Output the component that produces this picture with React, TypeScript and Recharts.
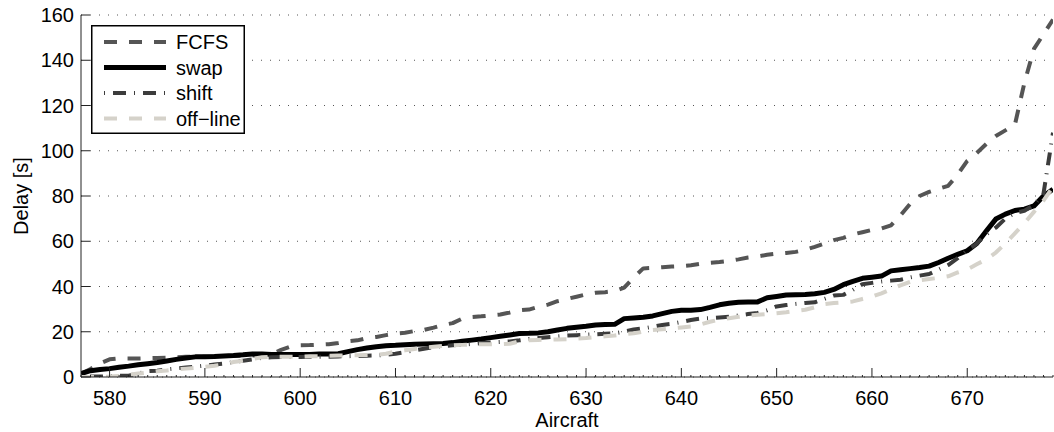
import React from 'react';
import { LineChart, Line, XAxis, YAxis, CartesianGrid, Legend, Label } from 'recharts';

const FIRST_AIRCRAFT = 577;
const LAST_AIRCRAFT = 679;

const fcfs = [
  1.5, 3.5, 6.0, 7.8, 8.2, 8.2, 8.2, 8.3, 8.4, 8.5,
  8.7, 8.9, 9.0, 9.0, 9.1, 9.2, 9.3, 9.4, 9.5, 9.6,
  10.0, 12.0, 13.5, 14.0, 14.1, 14.3, 14.5, 15.0, 15.8, 16.2,
  17.2, 17.7, 18.5, 19.2, 19.6, 20.3, 20.8, 21.8, 23.0, 23.8,
  25.8, 26.5, 26.8, 27.2, 27.6, 28.5, 29.5, 29.8, 31.0, 32.0,
  33.5, 34.5, 35.5, 36.5, 37.2, 37.5, 38.0, 39.5, 44.0, 48.0,
  48.2, 48.5, 48.8, 49.0, 49.4, 50.0, 50.5, 50.8, 51.3, 52.0,
  52.8, 53.3, 54.0, 54.5, 54.8, 55.3, 56.2, 57.5, 59.0, 60.5,
  61.5, 63.0, 64.0, 65.0, 65.6, 67.0, 71.5, 76.5, 80.0, 81.8,
  83.2, 84.5, 89.5, 95.5, 99.0, 103.0, 106.5, 109.0, 111.5, 130.0,
  145.0, 151.5, 158.0,
];

const swap = [
  1.5, 2.8, 3.3, 3.7, 4.3, 4.8, 5.4, 5.9, 6.4, 7.1,
  7.8, 8.4, 8.9, 9.0, 9.1, 9.3, 9.5, 9.8, 10.2, 10.2,
  10.0, 10.0, 10.0, 10.0, 10.0, 10.2, 10.2, 10.3, 11.2, 12.1,
  12.8, 13.4, 13.8, 14.0, 14.3, 14.5, 14.6, 14.7, 14.8, 15.2,
  15.8, 16.3, 16.8, 17.4, 18.0, 18.6, 19.2, 19.3, 19.5, 20.0,
  20.8, 21.5, 22.0, 22.4, 23.0, 23.2, 23.3, 25.8, 26.1, 26.4,
  27.0, 28.0, 29.0, 29.5, 29.5, 29.8, 30.8, 31.9, 32.6, 33.0,
  33.1, 33.2, 35.0, 35.6, 36.2, 36.4, 36.5, 36.8, 37.4, 38.7,
  40.8, 42.3, 43.6, 44.1, 44.6, 46.9, 47.4, 47.9, 48.4, 49.0,
  50.6, 52.5, 54.2, 55.8, 59.0, 64.5, 69.8, 72.0, 73.6, 74.2,
  75.6, 80.0, 83.0,
];

const shift = [
  0.3, 0.2, 0.2, 0.3, 0.5, 0.6, 1.5, 2.6, 2.8, 3.4,
  3.8, 4.2, 4.6, 5.0, 5.5, 5.9, 6.6, 7.2, 7.8, 8.5,
  8.7, 8.8, 8.8, 8.8, 8.9, 8.9, 9.0, 9.1, 9.2, 9.3,
  9.4, 9.5, 9.8, 10.3, 11.0, 11.8, 12.5, 13.2, 13.7, 14.0,
  14.3, 14.6, 15.0, 15.3, 15.5, 15.7, 16.2, 16.8, 17.2, 17.6,
  18.0, 18.3, 18.5, 18.7, 18.9, 19.1, 19.3, 20.0, 21.0, 21.5,
  22.2, 23.0, 23.5, 24.3, 25.2, 25.8, 26.0, 26.3, 26.6, 27.2,
  27.8, 28.3, 29.5, 31.2, 31.8, 32.3, 32.7, 33.0, 34.5, 36.0,
  36.3, 38.5, 41.0, 41.6, 42.2, 42.6, 43.0, 44.0, 44.8, 45.5,
  47.5, 49.5, 52.5, 56.0, 59.0, 63.0, 66.0, 70.0, 72.5, 73.5,
  76.0, 81.0, 108.0,
];

const offline = [
  0.0, 0.0, 0.1, 0.2, 0.4, 1.0, 1.5, 2.0, 2.5, 2.9,
  3.4, 3.7, 4.0, 4.5, 5.0, 5.6, 6.6, 7.2, 8.0, 8.7,
  8.9, 8.9, 8.9, 9.0, 9.2, 9.2, 9.4, 9.5, 9.6, 9.6,
  9.7, 9.8, 10.3, 11.2, 11.8, 12.4, 13.0, 13.4, 13.8, 14.0,
  14.2, 14.4, 14.5, 14.5, 14.5, 14.7, 15.8, 16.2, 16.4, 16.5,
  16.6, 16.7, 17.0, 17.2, 17.6, 18.0, 18.3, 18.9, 19.3, 20.0,
  20.8, 21.1, 21.5, 21.9, 22.3, 23.2, 24.4, 25.4, 26.0, 26.6,
  27.2, 27.5, 27.8, 28.2, 28.6, 29.2, 29.7, 30.8, 32.2, 32.7,
  33.0, 33.4, 34.5, 35.5, 37.0, 38.8, 40.5, 42.0, 42.8, 43.3,
  43.8, 44.5, 46.2, 47.5, 49.8, 52.0, 55.0, 59.0, 63.5, 68.0,
  73.0, 78.0, 84.0,
];

const aircraft = fcfs.map((_, i) => FIRST_AIRCRAFT + i);
const xMajorTicks = [580, 590, 600, 610, 620, 630, 640, 650, 660, 670];
const yTicks = [0, 20, 40, 60, 80, 100, 120, 140, 160];

const data = aircraft.map((a, i) => ({
  a,
  fcfs: fcfs[i],
  swap: swap[i],
  shift: shift[i],
  offline: offline[i],
}));

const FONT = '"Liberation Sans", Arial, Helvetica, sans-serif';
const AXIS_COLOR = '#222';
const FCFS_COLOR = '#555555';
const SWAP_COLOR = '#000000';
const SHIFT_COLOR = '#3c3c3c';
const OFFLINE_COLOR = '#d5d2ca';

const series = [
  { key: 'fcfs', name: 'FCFS', color: FCFS_COLOR, width: 4, dash: '13 12' },
  { key: 'swap', name: 'swap', color: SWAP_COLOR, width: 5, dash: undefined },
  { key: 'shift', name: 'shift', color: SHIFT_COLOR, width: 4, dash: '1 8 13 8' },
  { key: 'offline', name: 'off\u2212line', color: OFFLINE_COLOR, width: 4, dash: '13 12' },
];

const XTick = (props: any) => {
  const { x, y, payload } = props;
  const v = payload.value as number;
  const major = xMajorTicks.includes(v);
  return (
    <g>
      <line x1={x} x2={x} y1={y} y2={y - (major ? 9 : 2)} stroke={AXIS_COLOR} strokeWidth={1} />
      {major && (
        <text x={x} y={y + 28} textAnchor="middle" fontSize={20} fontFamily={FONT} fill="#000">
          {v}
        </text>
      )}
    </g>
  );
};

const YTick = (props: any) => {
  const { x, y, payload } = props;
  return (
    <g>
      <line x1={x} x2={x + 9} y1={y} y2={y} stroke={AXIS_COLOR} strokeWidth={1} />
      <text x={x - 7} y={y + 7} textAnchor="end" fontSize={20} fontFamily={FONT} fill="#000">
        {payload.value}
      </text>
    </g>
  );
};

const LegendBox = () => (
  <svg width={154} height={109} style={{ display: 'block' }}>
    <rect x={0.75} y={0.75} width={152.5} height={107.5} fill="#fff" stroke="#000" strokeWidth={1.5} />
    {series.map((s, i) => {
      const cy = 17 + i * 25.5;
      return (
        <g key={s.key}>
          <line
            x1={13}
            x2={75}
            y1={cy}
            y2={cy}
            stroke={s.color}
            strokeWidth={s.width}
            strokeDasharray={s.dash}
          />
          <text x={85} y={cy + 7} fontSize={20} fontFamily={FONT} fill="#000">
            {s.name}
          </text>
        </g>
      );
    })}
  </svg>
);

const YLabel = (props: any) => {
  const vb = props.viewBox || { x: 0, y: 15, width: 81, height: 362 };
  const cx = vb.x + 21;
  const cy = vb.y + vb.height / 2;
  return (
    <text
      x={cx}
      y={cy}
      transform={`rotate(-90 ${cx} ${cy})`}
      textAnchor="middle"
      dominantBaseline="central"
      fontSize={20}
      fontFamily={FONT}
      fill="#000"
    >
      Delay [s]
    </text>
  );
};

const XLabel = (props: any) => {
  const vb = props.viewBox || { x: 81, y: 377, width: 972, height: 55 };
  const cx = vb.x + vb.width / 2;
  return (
    <text x={cx} y={vb.y + 50} textAnchor="middle" fontSize={20} fontFamily={FONT} fill="#000">
      Aircraft
    </text>
  );
};

export default function App() {
  return (
    <div style={{ position: 'absolute', left: 0, top: 0, width: 1054, height: 432, background: '#fff' }}>
      <LineChart
        width={1054}
        height={432}
        data={data}
        margin={{ top: 15, right: 1, bottom: 0, left: 0 }}
      >
        <CartesianGrid
          vertical={false}
          stroke="#555"
          strokeDasharray="1 8"
          strokeWidth={1}
        />
        <XAxis
          dataKey="a"
          type="number"
          domain={[FIRST_AIRCRAFT, LAST_AIRCRAFT]}
          ticks={aircraft}
          interval={0}
          tickSize={0}
          tickMargin={0}
          tickLine={false}
          tick={<XTick />}
          height={55}
          axisLine={{ stroke: AXIS_COLOR, strokeWidth: 1 }}
          allowDataOverflow
        >
          <Label content={<XLabel />} />
        </XAxis>
        <YAxis
          type="number"
          domain={[0, 160]}
          ticks={yTicks}
          interval={0}
          tickSize={0}
          tickMargin={0}
          tickLine={false}
          tick={<YTick />}
          width={81}
          axisLine={{ stroke: AXIS_COLOR, strokeWidth: 1 }}
          allowDataOverflow
        >
          <Label content={<YLabel />} />
        </YAxis>
        <Legend
          layout="vertical"
          align="center"
          verticalAlign="middle"
          content={<LegendBox />}
          wrapperStyle={{ position: 'absolute', left: 91, top: 25, width: 154, height: 109 }}
        />
        {series.map((s) => (
          <Line
            key={s.key}
            dataKey={s.key}
            name={s.name}
            type="linear"
            stroke={s.color}
            strokeWidth={s.width}
            strokeDasharray={s.dash}
            strokeLinejoin="round"
            dot={false}
            activeDot={false}
            isAnimationActive={false}
          />
        ))}
      </LineChart>
    </div>
  );
}
